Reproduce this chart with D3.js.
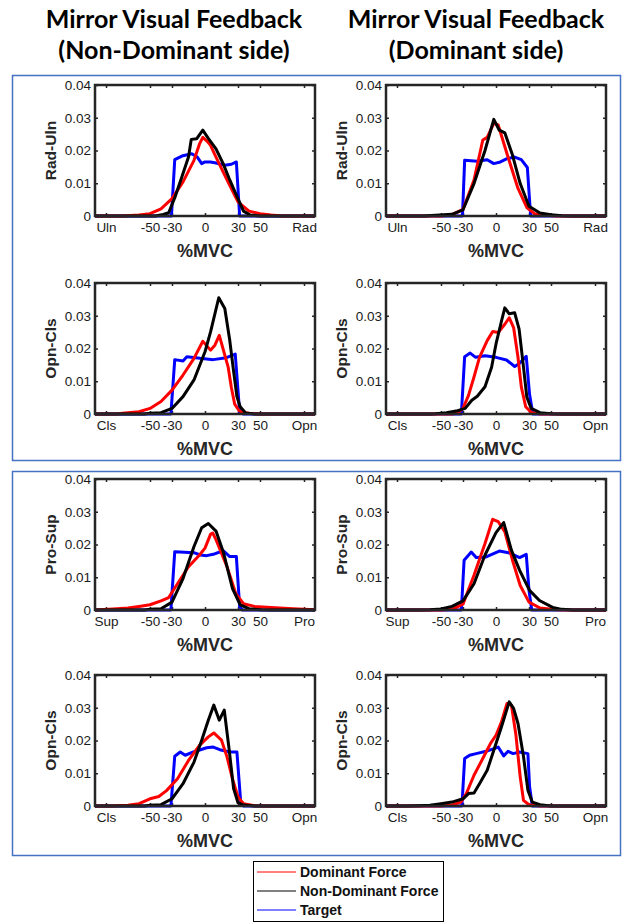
<!DOCTYPE html>
<html>
<head>
<meta charset="utf-8">
<script src="https://cdn.jsdelivr.net/npm/d3@7"></script>
<style>
  body { margin: 0; background: #fff; }
  svg { display: block; }
  .tick text { font-family: "Liberation Sans", Arial, sans-serif; font-size: 13.5px; fill: #1a1a1a; }
  .tick line { stroke: #262626; stroke-width: 1.5; }
  .domain { display: none; }
</style>
</head>
<body>
<div class="container"></div>
<script>
const w = 634;
const h = 923;

// axis ticks and labels
const xTicks = [-90, -50, -30, 0, 30, 50, 90];
const yTicks = [0, 0.01, 0.02, 0.03, 0.04];
const axisNames = ["Rad-Uln", "Opn-Cls", "Pro-Sup", "Opn-Cls"];
const endLabels = [["Uln", "Rad"], ["Cls", "Opn"], ["Sup", "Pro"], ["Cls", "Opn"]];
const titles = [["Mirror Visual Feedback", "(Non-Dominant side)"], ["Mirror Visual Feedback", "(Dominant side)"]];
const legendNames = ["Dominant Force", "Non-Dominant Force", "Target"];

// series, [%MVC, density]; L = non-dominant side feedback, R = dominant side
const target1L = [[-100,0],[-30.5,0],[-27.5,0.0172],[-21,0.0183],[-12,0.019],[-7,0.018],[-3,0.016],[0,0.0165],[5,0.0165],[10,0.0162],[18,0.0155],[24,0.0158],[28.5,0.0165],[31.5,0],[100,0]];
const red1L = [[-100,0],[-75,0],[-60,0.0003],[-50,0.0007],[-40,0.0022],[-30,0.0053],[-20,0.0104],[-10,0.017],[-5,0.022],[-2,0.024],[2,0.0228],[5,0.0216],[10,0.018],[20,0.011],[30,0.0043],[40,0.0015],[50,0.0007],[60,0.0003],[70,0],[100,0]];
const black1L = [[-100,0],[-45,0],[-38,0.0005],[-33,0.001],[-27,0.006],[-21,0.012],[-15,0.018],[-12.5,0.0234],[-7.5,0.0236],[-2,0.0262],[3,0.0237],[10,0.0205],[16.5,0.016],[22.5,0.011],[29,0.006],[35,0.0015],[41,0.0003],[50,0],[100,0]];

const target1R = [[-100,0],[-30.5,0],[-28.5,0.017],[-17,0.0167],[-8,0.0172],[-2,0.016],[4,0.0165],[10,0.0175],[17,0.018],[23,0.0172],[28.5,0.0148],[31.5,0],[100,0]];
const red1R = [[-100,0],[-50,0],[-40,0.0004],[-30,0.002],[-20,0.011],[-12,0.0232],[-8,0.024],[-2,0.0283],[2,0.0278],[10,0.019],[20,0.0084],[28,0.0026],[35,0.0007],[45,0.0002],[55,0],[100,0]];
const black1R = [[-100,0],[-65,0],[-55,0.0002],[-40,0.0005],[-30,0.0019],[-20,0.0099],[-10,0.02],[-2,0.0295],[3,0.0262],[8,0.0254],[15,0.0186],[22,0.0099],[30,0.003],[40,0.0009],[50,0.0004],[60,0.0001],[70,0],[100,0]];

const target2L = [[-100,0],[-31,0],[-27.5,0.0166],[-20,0.0162],[-16.5,0.0175],[-4.5,0.017],[7.5,0.0166],[19.5,0.0172],[27.5,0.0183],[31.5,0.0005],[35,0],[100,0]];
const red2L = [[-100,0],[-80,0],[-75,0.0002],[-60,0.0007],[-50,0.0017],[-40,0.0038],[-30,0.0073],[-20,0.0119],[-10,0.017],[-2,0.0222],[5,0.0195],[9,0.021],[13,0.024],[18,0.018],[21,0.0144],[24,0.008],[27,0.003],[31,0.001],[35,0.0004],[40,0.0002],[50,0],[100,0]];
const black2L = [[-100,0],[-55,0],[-50,0.0002],[-40,0.0004],[-30,0.0017],[-20,0.0053],[-10,0.0104],[0,0.019],[5,0.025],[12.5,0.0355],[18,0.0322],[22.5,0.0225],[26,0.013],[29,0.0053],[32,0.0022],[37,0.0003],[45,0],[100,0]];

const target2R = [[-100,0],[-31.5,0],[-28.5,0.0175],[-23.5,0.0186],[-18.5,0.0173],[-10,0.0178],[0,0.0173],[9.5,0.0165],[17,0.0145],[21.5,0.0155],[27.5,0.0176],[30.5,0.006],[33.5,0],[100,0]];
const red2R = [[-100,0],[-40,0],[-35,0.0003],[-30,0.0017],[-25,0.0057],[-20,0.0113],[-15,0.0173],[-8,0.0224],[-3,0.0252],[2,0.0249],[8,0.0274],[12,0.0294],[16,0.0264],[20,0.0173],[23,0.0083],[27,0.0022],[32,0.0005],[40,0],[100,0]];
const black2R = [[-100,0],[-60,0],[-55,0.0001],[-45,0.0004],[-35,0.001],[-28,0.0017],[-22,0.0042],[-17,0.0054],[-10,0.0083],[-4,0.0143],[0,0.0214],[5,0.0284],[8,0.0324],[12,0.0306],[17,0.0309],[21,0.0259],[25,0.0143],[28,0.0052],[32,0.0017],[40,0.0004],[50,0.0001],[60,0],[100,0]];

const target3L = [[-100,0],[-31,0],[-27.5,0.0178],[-10,0.0175],[-4.5,0.0168],[1.5,0.0166],[7.5,0.017],[16.5,0.0181],[22.5,0.0163],[28.5,0.0163],[31.5,0.001],[34,0],[100,0]];
const red3L = [[-100,0],[-80,0.0004],[-70,0.0006],[-60,0.0011],[-50,0.0016],[-40,0.0028],[-33,0.0038],[-25,0.008],[-15,0.0132],[-5,0.0168],[0,0.0189],[5,0.0231],[7,0.0235],[10,0.0215],[20,0.0132],[28,0.005],[35,0.0019],[45,0.0011],[60,0.0008],[80,0.0004],[100,0.0001]];
const black3L = [[-100,0],[-55,0],[-50,0.0002],[-40,0.0004],[-30,0.0024],[-20,0.0096],[-10,0.0194],[-3,0.0251],[3,0.0264],[10,0.0241],[17,0.0173],[25,0.0065],[32,0.0016],[40,0.0004],[50,0.0001],[60,0],[100,0]];

const target3R = [[-100,0],[-31.5,0],[-29,0.0152],[-22.5,0.0177],[-18,0.016],[-9,0.0162],[3,0.018],[12.5,0.0174],[21.5,0.016],[27.5,0.017],[30,0.006],[32.5,0],[100,0]];
const red3R = [[-100,0],[-50,0],[-40,0.0002],[-30,0.0018],[-20,0.0106],[-10,0.0203],[-3,0.0277],[2,0.027],[8,0.0239],[15,0.0152],[22,0.0075],[30,0.0024],[40,0.0006],[55,0.0001],[65,0],[100,0]];
const black3R = [[-100,0],[-70,0],[-60,0.0001],[-50,0.0003],[-40,0.0011],[-30,0.0028],[-20,0.008],[-10,0.0168],[0,0.0236],[7,0.0267],[14,0.0183],[21.5,0.0121],[30.5,0.006],[39.5,0.0029],[51.5,0.0008],[60,0.0002],[70,0],[100,0]];

const target4L = [[-100,0],[-31,0],[-27.5,0.0152],[-22.5,0.0165],[-18,0.0155],[-10.5,0.0165],[1.5,0.0178],[7.5,0.018],[13.5,0.0172],[22.5,0.0165],[29,0.0165],[32.5,0.001],[35,0],[100,0]];
const red4L = [[-100,0],[-85,0],[-80,0.0001],[-70,0.0002],[-60,0.0007],[-50,0.0022],[-42,0.0029],[-35,0.0047],[-25,0.0083],[-15,0.0139],[-5,0.0185],[3,0.0211],[8,0.0223],[15,0.0201],[20,0.015],[25,0.0083],[30,0.0028],[35,0.0007],[45,0.0001],[55,0],[100,0]];
const black4L = [[-100,0],[-55,0],[-50,0.0002],[-40,0.0004],[-30,0.0022],[-20,0.0068],[-10,0.0134],[-3,0.0201],[3,0.0262],[8,0.0308],[13,0.0262],[17.5,0.0293],[22,0.0171],[26,0.0053],[30,0.001],[35,0.0003],[45,0],[100,0]];

const target4R = [[-100,0],[-31,0],[-28.5,0.0145],[-24,0.0155],[-18,0.016],[-9,0.0167],[2,0.018],[7,0.0153],[11,0.0167],[15.5,0.016],[21.5,0.0165],[29,0.016],[30.5,0.006],[33,0],[100,0]];
const red4R = [[-100,0],[-50,0],[-40,0.0003],[-32,0.0012],[-27,0.0038],[-20,0.0094],[-12,0.0145],[-5,0.0191],[0,0.0216],[5,0.0257],[10,0.0313],[14,0.0308],[18,0.022],[22,0.0089],[25,0.0017],[30,0.0004],[40,0],[100,0]];
const black4R = [[-100,0],[-80,0],[-70,0.0001],[-60,0.0002],[-50,0.0007],[-40,0.0012],[-30,0.0022],[-25,0.0038],[-20,0.004],[-15,0.0068],[-8,0.0109],[-2,0.017],[5,0.0242],[12,0.0318],[16,0.0298],[20,0.0252],[25,0.0151],[29,0.0048],[33,0.0012],[40,0.0004],[50,0],[100,0]];

const panels = [
  [target1L, red1L, black1L], [target1R, red1R, black1R],
  [target2L, red2L, black2L], [target2R, red2R, black2R],
  [target3L, red3L, black3L], [target3R, red3R, black3R],
  [target4L, red4L, black4L], [target4R, red4R, black4R]
];

const colLeft = [95, 386];
const plotW = 220;
const rowTop = [85, 283, 479, 675];
const plotH = 131;
const seriesColor = ["#0000ff", "#ff0000", "#000000"];   // target, dominant, non-dominant

const svg = d3.select('.container').append('svg')
  .attr('width', w)
  .attr('height', h);

// group frames
svg.append('rect')
  .attr('x', 12.5).attr('y', 75.5).attr('width', 608).attr('height', 385)
  .attr('fill', 'none').attr('stroke', '#4472c4').attr('stroke-width', 1.5);
svg.append('rect')
  .attr('x', 12.5).attr('y', 471.5).attr('width', 608).attr('height', 384)
  .attr('fill', 'none').attr('stroke', '#4472c4').attr('stroke-width', 1.5);

// column titles
titles.forEach((t, i) => {
  const tx = i === 0 ? 174 : 476;
  t.forEach((s, j) => {
    svg.append('text')
      .attr('x', tx).attr('y', 28 + j * 31)
      .attr('text-anchor', 'middle')
      .style('font-family', 'Lato, "Open Sans", sans-serif')
      .style('font-weight', 'bold')
      .style('font-size', '25px')
      .text(s);
  });
});

const line = d3.line();

panels.forEach((series, i) => {
  const row = Math.floor(i / 2);
  const col = i % 2;
  const x = d3.scaleLinear().domain([-100, 100]).range([0, plotW]);
  const y = d3.scaleLinear().domain([0, 0.04]).range([plotH, 0]);
  const ends = endLabels[row];

  const g = svg.append('g')
    .attr('transform', `translate(${colLeft[col]}, ${rowTop[row]})`);

  g.append('g')
    .attr('transform', `translate(0, ${plotH})`)
    .call(d3.axisBottom(x).tickValues(xTicks).tickSizeInner(-3).tickSizeOuter(0).tickPadding(6)
      .tickFormat(d => d === -90 ? ends[0] : d === 90 ? ends[1] : d));
  g.append('g')
    .call(d3.axisTop(x).tickValues(xTicks).tickSizeInner(-3).tickSizeOuter(0).tickFormat(''));
  g.append('g')
    .call(d3.axisLeft(y).tickValues(yTicks).tickSizeInner(-3).tickSizeOuter(0).tickPadding(4)
      .tickFormat(d => d === 0 ? '0' : d3.format('.2f')(d)));
  g.append('g')
    .attr('transform', `translate(${plotW}, 0)`)
    .call(d3.axisRight(y).tickValues(yTicks).tickSizeInner(-3).tickSizeOuter(0).tickFormat(''));

  g.selectAll('path.curve')
    .data(series)
    .enter().append('path')
    .attr('class', 'curve')
    .attr('fill', 'none')
    .attr('stroke', (d, k) => seriesColor[k])
    .attr('stroke-width', 3)
    .attr('stroke-linejoin', 'round')
    .attr('d', d => line(d.map(p => [x(p[0]), y(p[1])])));

  g.append('rect')
    .attr('width', plotW).attr('height', plotH)
    .attr('fill', 'none').attr('stroke', '#262626').attr('stroke-width', 2.5);

  g.append('text')
    .attr('transform', `translate(-44, ${plotH / 2}) rotate(-90)`)
    .attr('text-anchor', 'middle')
    .attr('dy', '0.35em')
    .style('font-family', '"Liberation Sans", Arial, sans-serif')
    .style('font-weight', 'bold')
    .style('font-size', '15.5px')
    .attr('fill', '#262626')
    .text(axisNames[row]);

  g.append('text')
    .attr('x', plotW / 2).attr('y', plotH + 41)
    .attr('text-anchor', 'middle')
    .style('font-family', '"Liberation Sans", Arial, sans-serif')
    .style('font-weight', 'bold')
    .style('font-size', '18px')
    .attr('fill', '#262626')
    .text('%MVC');
});

// legend
const legend = svg.append('g').attr('transform', 'translate(253, 861)');
legend.append('rect')
  .attr('x', 0.5).attr('y', 0.5).attr('width', 190).attr('height', 60)
  .attr('fill', '#fff').attr('stroke', '#000').attr('stroke-width', 1);
const legendColor = ["#ff0000", "#000000", "#0000ff"];
const item = legend.selectAll('g.item')
  .data(legendNames)
  .enter().append('g')
  .attr('class', 'item')
  .attr('transform', (d, i) => `translate(0, ${11 + i * 19})`);
item.append('line')
  .attr('x1', 4).attr('x2', 43)
  .attr('stroke', (d, i) => legendColor[i])
  .attr('stroke-width', 1);
item.append('text')
  .attr('x', 47).attr('dy', '0.35em')
  .style('font-family', '"Liberation Sans", Arial, sans-serif')
  .style('font-weight', 'bold')
  .style('font-size', '14px')
  .attr('fill', '#111')
  .text(d => d);
</script>
</body>
</html>
